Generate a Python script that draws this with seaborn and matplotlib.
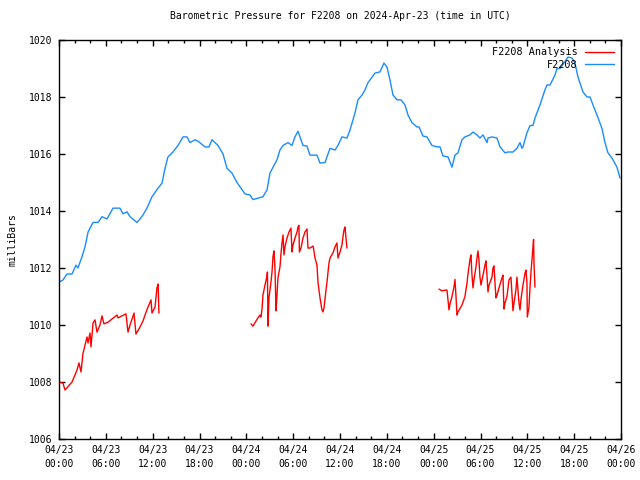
import numpy as np
import pandas as pd
import matplotlib
matplotlib.use("Agg")
import matplotlib.pyplot as plt
from matplotlib.ticker import MultipleLocator
import seaborn as sns

# ---- data (hours since 2024-04-23 00:00 UTC, pressure in mb) ----
obs_hours = [0, 0.51, 1.02, 1.67, 2.18, 2.43, 2.95, 3.33, 3.72, 4.36, 5.0, 5.51, 6.15, 6.92,
             7.81, 8.2, 8.71, 9.1, 9.99, 10.38, 10.76, 11.27, 11.91, 12.68, 13.2, 13.58, 13.96,
             14.6, 15.24, 15.89, 16.4, 16.78, 17.42, 17.81, 18.7, 19.22, 19.6, 20.37, 21.01,
             21.52, 22.16, 22.8, 23.83, 24.47, 24.85, 26.13, 26.65, 27.03, 27.93, 28.31, 28.7,
             29.34, 29.85, 30.23, 30.62, 31.26, 31.77, 32.15, 33.05, 33.44, 34.08, 34.72, 35.36,
             35.74, 36.25, 36.89, 37.28, 37.92, 38.3, 38.82, 39.2, 39.58, 40.1, 40.48, 41.12,
             41.63, 42.02, 42.4, 42.79, 43.3, 43.81, 44.33, 44.71, 45.22, 45.86, 46.12, 46.63,
             47.14, 47.78, 48.42, 48.81, 49.19, 49.83, 50.35, 50.73, 51.11, 51.63, 52.01, 52.65,
             53.04, 53.55, 53.93, 54.32, 54.83, 54.96, 55.47, 56.11, 56.5, 57.14, 57.52, 58.16,
             58.67, 59.06, 59.31, 59.44, 59.95, 60.34, 60.72, 60.98, 61.62, 62.26, 62.52, 62.9,
             63.54, 63.8, 64.18, 64.69, 65.21, 65.72, 66.1, 66.49, 67.13, 67.64, 68.03, 68.41,
             68.92, 69.56, 69.95, 70.33, 70.84, 71.48, 71.87]
obs_mb = [1011.5, 1011.58, 1011.79, 1011.79, 1012.1, 1012.0, 1012.4, 1012.74, 1013.26, 1013.6,
          1013.6, 1013.8, 1013.72, 1014.1, 1014.1, 1013.9, 1013.97, 1013.8, 1013.6, 1013.72,
          1013.86, 1014.1, 1014.5, 1014.8, 1014.98, 1015.5, 1015.9, 1016.07, 1016.3, 1016.6,
          1016.6, 1016.4, 1016.5, 1016.45, 1016.25, 1016.25, 1016.5, 1016.3, 1016.0, 1015.5,
          1015.33, 1015.0, 1014.6, 1014.56, 1014.4, 1014.5, 1014.74, 1015.33, 1015.8, 1016.14,
          1016.3, 1016.4, 1016.3, 1016.6, 1016.8, 1016.3, 1016.28, 1015.96, 1015.96, 1015.68,
          1015.7, 1016.2, 1016.14, 1016.3, 1016.6, 1016.56, 1016.84, 1017.44, 1017.9, 1018.07,
          1018.25, 1018.5, 1018.7, 1018.84, 1018.88, 1019.19, 1019.05, 1018.6, 1018.07, 1017.9,
          1017.9, 1017.72, 1017.37, 1017.1, 1016.95, 1016.95, 1016.63, 1016.6, 1016.3, 1016.25,
          1016.25, 1015.93, 1015.9, 1015.54, 1015.96, 1016.04, 1016.5, 1016.6, 1016.67, 1016.77,
          1016.67, 1016.56, 1016.67, 1016.4, 1016.56, 1016.6, 1016.56, 1016.25, 1016.04, 1016.07,
          1016.07, 1016.2, 1016.4, 1016.2, 1016.25, 1016.74, 1017.0, 1017.0, 1017.26, 1017.72,
          1018.25, 1018.42, 1018.42, 1018.77, 1019.0, 1019.0, 1019.19, 1019.4, 1019.37, 1019.19,
          1018.7, 1018.18, 1018.0, 1018.0, 1017.72, 1017.37, 1016.9, 1016.4, 1016.04, 1015.86,
          1015.54, 1015.16]

ana1_hours = [0, 0.51, 0.77, 1.67, 2.31, 2.56, 2.82, 3.07, 3.59, 3.72, 3.97, 4.1, 4.36, 4.61,
              4.87, 5.25, 5.51, 5.76, 6.28, 7.43, 7.56, 8.58, 8.84, 9.1, 9.61, 9.86, 10.38,
              10.76, 11.02, 11.4, 11.79, 11.91, 12.3, 12.55, 12.7, 12.8]
ana1_mb = [1008.0, 1007.96, 1007.72, 1008.0, 1008.42, 1008.67, 1008.35, 1009.0, 1009.58, 1009.37,
           1009.72, 1009.23, 1010.07, 1010.18, 1009.75, 1010.0, 1010.32, 1010.04, 1010.1, 1010.35,
           1010.25, 1010.39, 1009.75, 1010.0, 1010.42, 1009.68, 1009.93, 1010.14, 1010.35, 1010.63,
           1010.88, 1010.42, 1010.63, 1011.3, 1011.44, 1010.42]

ana2_hours = [24.6, 24.85, 25.37, 25.75, 25.88, 26.01, 26.13, 26.39, 26.65, 26.7, 26.78, 26.9,
              27.16, 27.29, 27.41, 27.54, 27.67, 27.8, 27.93, 28.05, 28.31, 28.44, 28.57, 28.7,
              28.82, 28.95, 29.21, 29.46, 29.72, 29.85, 29.98, 30.23, 30.49, 30.62, 30.74, 30.8,
              31.0, 31.26, 31.51, 31.77, 31.9, 32.15, 32.54, 32.6, 32.8, 33.05, 33.18, 33.44,
              33.69, 33.82, 33.95, 34.21, 34.33, 34.59, 34.72, 35.1, 35.36, 35.61, 35.74, 36.0,
              36.25, 36.38, 36.51, 36.64, 36.77, 36.89]
ana2_mb = [1010.04, 1009.96, 1010.2, 1010.35, 1010.28, 1010.56, 1011.05, 1011.4, 1011.72, 1011.86,
           1009.96, 1010.95, 1011.51, 1011.86, 1012.39, 1012.6, 1012.0, 1010.5, 1011.05, 1011.65,
           1012.04, 1012.5, 1012.88, 1013.16, 1012.46, 1012.74, 1013.05, 1013.26, 1013.4, 1012.56,
           1012.81, 1013.05, 1013.26, 1013.44, 1013.5, 1012.56, 1012.7, 1013.05, 1013.26, 1013.37,
           1012.7, 1012.7, 1012.77, 1012.7, 1012.35, 1012.1, 1011.5, 1010.95, 1010.53, 1010.46,
           1010.6, 1011.23, 1011.5, 1012.18, 1012.35, 1012.53, 1012.74, 1012.88, 1012.35, 1012.56,
           1012.81, 1013.1, 1013.33, 1013.44, 1013.05, 1012.7]

ana3_hours = [48.68, 49.06, 49.7, 49.83, 49.96, 50.09, 50.35, 50.6, 50.73, 50.86, 50.99, 51.11,
              51.63, 51.88, 52.01, 52.27, 52.4, 52.65, 52.78, 52.91, 53.04, 53.16, 53.42, 53.55,
              53.68, 53.8, 53.93, 54.06, 54.32, 54.57, 54.7, 54.83, 54.96, 55.09, 55.47, 55.6,
              55.73, 55.86, 55.98, 56.11, 56.37, 56.75, 56.88, 56.94, 57.01, 57.14, 57.39, 57.65,
              57.9, 58.03, 58.16, 58.29, 58.54, 58.67, 58.93, 59.06, 59.18, 59.44, 59.7, 59.83,
              59.95, 60.0, 60.21, 60.34, 60.47, 60.6, 60.72, 60.8, 60.85, 60.98]
ana3_mb = [1011.26, 1011.2, 1011.23, 1010.9, 1010.53, 1010.74, 1011.0, 1011.33, 1011.6, 1011.0,
           1010.35, 1010.46, 1010.7, 1010.9, 1011.0, 1011.47, 1011.79, 1012.3, 1012.46, 1011.75,
           1011.3, 1011.58, 1012.04, 1012.35, 1012.6, 1012.28, 1011.68, 1011.4, 1011.75, 1012.1,
           1012.25, 1011.75, 1011.16, 1011.4, 1011.68, 1012.0, 1012.07, 1011.47, 1010.95, 1011.05,
           1011.3, 1011.65, 1011.75, 1011.1, 1010.56, 1010.77, 1011.0, 1011.58, 1011.68, 1011.1,
           1010.5, 1010.77, 1011.23, 1011.68, 1010.77, 1010.53, 1010.88, 1011.4, 1011.82, 1011.93,
           1011.47, 1010.28, 1010.63, 1011.3, 1011.86, 1012.3, 1012.74, 1013.0, 1012.18, 1011.33]

x_tick_hours = [0, 6, 12, 18, 24, 30, 36, 42, 48, 54, 60, 66, 72]
x_tick_labels = ["04/23\n00:00", "04/23\n06:00", "04/23\n12:00", "04/23\n18:00",
                 "04/24\n00:00", "04/24\n06:00", "04/24\n12:00", "04/24\n18:00",
                 "04/25\n00:00", "04/25\n06:00", "04/25\n12:00", "04/25\n18:00",
                 "04/26\n00:00"]
y_ticks = [1006, 1008, 1010, 1012, 1014, 1016, 1018, 1020]

title = "Barometric Pressure for F2208 on 2024-Apr-23 (time in UTC)"
ylabel = "milliBars"
label_ana = "F2208 Analysis"
label_obs = "F2208"

# ---- build tables ----
ana_df = pd.DataFrame({
    "hour": ana1_hours + ana2_hours + ana3_hours,
    "mb": ana1_mb + ana2_mb + ana3_mb,
    "seg": [1] * len(ana1_hours) + [2] * len(ana2_hours) + [3] * len(ana3_hours),
})
obs_df = pd.DataFrame({"hour": obs_hours, "mb": obs_mb})

sns.set_theme(style="white")
plt.rcParams["font.family"] = ["DejaVu Sans Mono", "DejaVu Sans"]
plt.rcParams["axes.linewidth"] = 1.0
plt.rcParams["axes.edgecolor"] = "black"

fig = plt.figure(figsize=(6.4, 4.8), dpi=100)
ax = fig.add_axes([59 / 640, 1 - 439 / 480, (621 - 59) / 640, (439 - 40) / 480])

red = "#ff0000"
blue = "#1a8cff"
sns.lineplot(data=ana_df, x="hour", y="mb", units="seg", estimator=None, sort=False,
             color=red, linewidth=1.0, ax=ax, legend=False)
sns.lineplot(data=obs_df, x="hour", y="mb", estimator=None, sort=False,
             color=blue, linewidth=1.0, ax=ax, legend=False)

ax.set_xlim(0, 72)
ax.set_ylim(1006, 1020)
ax.set_xticks(x_tick_hours)
ax.set_xticklabels(x_tick_labels)
ax.xaxis.set_minor_locator(MultipleLocator(2))
ax.set_yticks(y_ticks)
ax.set_yticklabels([str(v) for v in y_ticks])
ax.tick_params(axis="both", which="major", direction="in", length=4, width=1,
               top=True, right=True, bottom=True, left=True,
               labelsize=7, colors="black", pad=4)
ax.tick_params(axis="x", which="minor", direction="in", length=2.5, width=1,
               top=True, bottom=True, colors="black")
ax.tick_params(axis="y", which="major", pad=5)
for lab in ax.get_xticklabels():
    lab.set_linespacing(1.5)

ax.set_xlabel("")
ax.set_ylabel(ylabel, fontsize=7, labelpad=8, color="black")
ax.set_title(title, fontsize=7, pad=15, color="black")

handles = [plt.Line2D([], [], color=red, linewidth=1.0),
           plt.Line2D([], [], color=blue, linewidth=1.0)]
leg = ax.legend(handles, [label_ana, label_obs], loc="upper right",
                bbox_to_anchor=(1.0, 1.0), frameon=False,
                markerfirst=False, fontsize=7.3, handlelength=2.9, handletextpad=0.7,
                labelspacing=0.25, borderaxespad=0.3)
for t in leg.get_texts():
    t.set_color("black")

fig.savefig("out.png", dpi=100)
